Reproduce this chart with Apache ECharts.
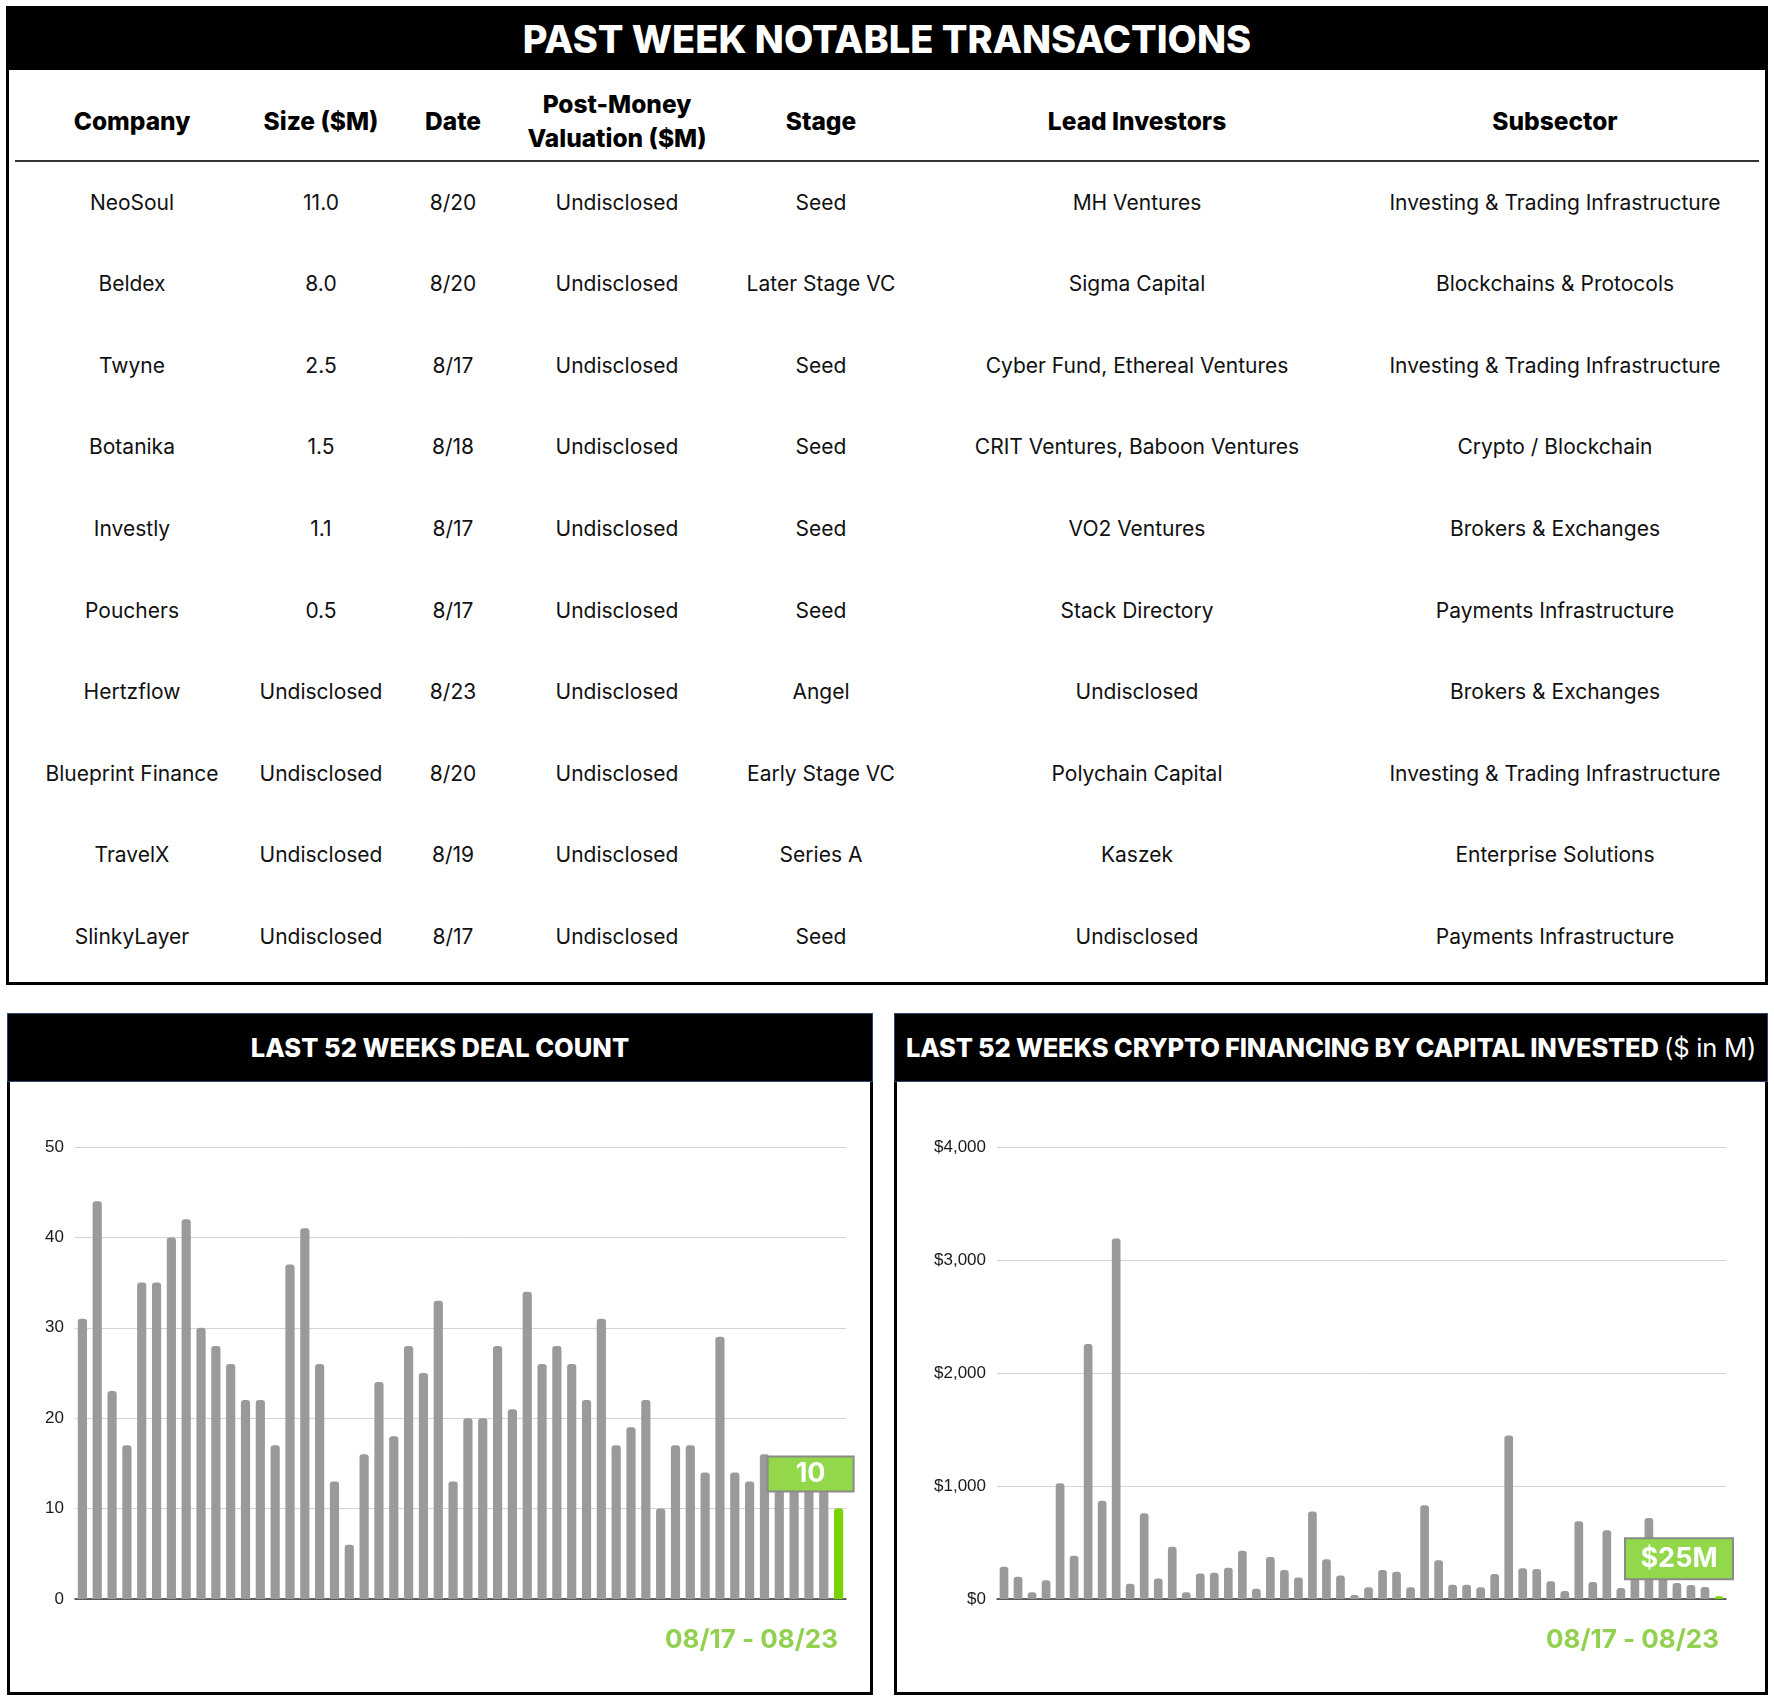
<!DOCTYPE html>
<html>
<head>
<meta charset="utf-8">
<script src="https://cdn.jsdelivr.net/npm/echarts@6/dist/echarts.min.js"></script>
<style>
  body { margin: 0; background: #fff; width: 1774px; height: 1700px; position: relative; font-family: Inter, "Noto Sans", sans-serif; }
  .box { position: absolute; box-sizing: border-box; border: 3px solid #000; }
  .bigHead { position: absolute; left: 0; top: 0; right: 0; height: 61px; background: #000; color: #fff;
             font-weight: 800; font-size: 38px; text-align: center; line-height: 61px; }
  .cell { position: absolute; display: flex; align-items: center; justify-content: center; text-align: center; color: #111; }
  .hcell { font-weight: 800; font-size: 24.5px; line-height: 34px; color: #000; }
  .bcell { font-size: 21px; }
  .chartHead { position: absolute; left: -3px; right: -3px; top: 0; height: 69px; background: #000; box-sizing: border-box;
               border: 1px solid #2e4468; color: #fff; font-weight: 800; font-size: 25.5px; text-align: center; line-height: 67px; white-space: nowrap; }
  .chart { position: absolute; }
</style>
</head>
<body>
<div class="box" id="tableBox" style="left:6px; top:6px; width:1762px; height:979px;">
  <div class="bigHead">PAST WEEK NOTABLE TRANSACTIONS</div>
</div>

<div class="box" style="left:7px; top:1013px; width:866px; height:682px; border-top:none;">
  <div class="chartHead">LAST 52 WEEKS DEAL COUNT</div>
</div>
<div class="box" style="left:894px; top:1013px; width:874px; height:682px; border-top:none;">
  <div class="chartHead" style="letter-spacing:-0.2px;">LAST 52 WEEKS CRYPTO FINANCING BY CAPITAL INVESTED <span style="font-weight:400">($ in M)</span></div>
</div>

<div class="chart" id="dealChart" style="left:10px; top:1082px; width:860px; height:609px;"></div>
<div class="chart" id="capChart" style="left:897px; top:1082px; width:868px; height:609px;"></div>

<script>
// table data
var headers = ['Company', 'Size ($M)', 'Date', 'Post-Money<br>Valuation ($M)', 'Stage', 'Lead Investors', 'Subsector'];
var companies = ['NeoSoul', 'Beldex', 'Twyne', 'Botanika', 'Investly', 'Pouchers', 'Hertzflow', 'Blueprint Finance', 'TravelX', 'SlinkyLayer'];
var sizes = ['11.0', '8.0', '2.5', '1.5', '1.1', '0.5', 'Undisclosed', 'Undisclosed', 'Undisclosed', 'Undisclosed'];
var dates = ['8/20', '8/20', '8/17', '8/18', '8/17', '8/17', '8/23', '8/20', '8/19', '8/17'];
var valuations = ['Undisclosed', 'Undisclosed', 'Undisclosed', 'Undisclosed', 'Undisclosed', 'Undisclosed', 'Undisclosed', 'Undisclosed', 'Undisclosed', 'Undisclosed'];
var stages = ['Seed', 'Later Stage VC', 'Seed', 'Seed', 'Seed', 'Seed', 'Angel', 'Early Stage VC', 'Series A', 'Seed'];
var investors = ['MH Ventures', 'Sigma Capital', 'Cyber Fund, Ethereal Ventures', 'CRIT Ventures, Baboon Ventures', 'VO2 Ventures',
                 'Stack Directory', 'Undisclosed', 'Polychain Capital', 'Kaszek', 'Undisclosed'];
var subsectors = ['Investing & Trading Infrastructure', 'Blockchains & Protocols', 'Investing & Trading Infrastructure', 'Crypto / Blockchain',
                  'Brokers & Exchanges', 'Payments Infrastructure', 'Brokers & Exchanges', 'Investing & Trading Infrastructure',
                  'Enterprise Solutions', 'Payments Infrastructure'];

// chart data (last 52 weeks, oldest first)
var dealCounts = [31, 44, 23, 17, 35, 35, 40, 42, 30, 28, 26, 22, 22, 17, 37, 41, 26, 13, 6, 16,
                  24, 18, 28, 25, 33, 13, 20, 20, 28, 21, 34, 26, 28, 26, 22, 31, 17, 19, 22, 10,
                  17, 17, 14, 29, 14, 13, 16, 13, 15, 14, 12, 10];
var capital = [285, 198, 59, 166, 1024, 383, 2257, 870, 3190, 134, 759, 182, 462, 59, 225, 233, 277, 427, 91, 372,
               257, 190, 775, 352, 209, 36, 103, 257, 241, 103, 830, 344, 126, 126, 103, 221, 1447, 273, 265, 158,
               71, 688, 150, 609, 97, 240, 717, 350, 142, 124, 106, 25];
var weekLabels = [];
for (var w = 1; w <= 52; w++) { weekLabels.push('W' + w); }
var dealLabel = '10';
var capLabel = '$25M';
var rangeLabel = '08/17 - 08/23';

// build table
var colStarts = [15, 249, 393, 513, 721, 921, 1353];
var colWidths = [234, 144, 120, 208, 200, 432, 404];
var columns = [companies, sizes, dates, valuations, stages, investors, subsectors];
var box = document.getElementById('tableBox');
function addCell(html, cls, left, top, width, height) {
  var d = document.createElement('div');
  d.className = 'cell ' + cls;
  d.style.left = (left - 9) + 'px';
  d.style.top = (top - 9) + 'px';
  d.style.width = width + 'px';
  d.style.height = height + 'px';
  d.innerHTML = html;
  box.appendChild(d);
}
for (var c = 0; c < headers.length; c++) {
  addCell(headers[c], 'hcell', colStarts[c], 75, colWidths[c], 91);
}
var line = document.createElement('div');
line.style.cssText = 'position:absolute;left:6px;width:1744px;top:151px;height:2px;background:#333;';
box.appendChild(line);
for (var r = 0; r < companies.length; r++) {
  var cy = 202 + 81.6 * r;
  for (var c2 = 0; c2 < columns.length; c2++) {
    addCell(columns[c2][r].replace(/&/g, '&amp;'), 'bcell', colStarts[c2], cy - 30, colWidths[c2], 60);
  }
}

var gray = '#9a9a9a';
var green = '#77d400';
function barData(values, label, offX, boxW, boxH) {
  return values.map(function (v, i) {
    if (i < values.length - 1) return v;
    return {
      value: v,
      itemStyle: { color: green },
      label: {
        show: true, position: 'top', distance: 18, offset: [offX, 0],
        formatter: label,
        color: '#fff', fontWeight: 'bold', fontFamily: 'Inter', fontSize: 27,
        backgroundColor: '#92d84a', borderColor: '#8a8a8a', borderWidth: 2,
        width: boxW, align: 'center', lineHeight: boxH, padding: [2, 0]
      }
    };
  });
}

function makeOption(values, gridLeft, gridRight, maxV, interval, fmt, label, offX, boxW, boxH, textX) {
  return {
    animation: false,
    grid: { left: gridLeft, right: gridRight, top: 65, bottom: 92 },
    xAxis: {
      type: 'category', data: weekLabels,
      axisLine: { lineStyle: { color: '#333', width: 1.5 } },
      axisTick: { show: false }, axisLabel: { show: false }
    },
    yAxis: {
      type: 'value', min: 0, max: maxV, interval: interval,
      axisLine: { show: false }, axisTick: { show: false },
      axisLabel: { formatter: fmt, color: '#1a1a1a', fontSize: 17, fontFamily: 'Liberation Sans, Arial', margin: 11 },
      splitLine: { lineStyle: { color: '#d3d3d3', width: 1 } }
    },
    series: [{
      type: 'bar', data: barData(values, label, offX, boxW, boxH), barWidth: '62%',
      itemStyle: { color: gray, borderRadius: [3, 3, 0, 0] }
    }],
    graphic: [{
      type: 'text', x: textX, y: 558,
      style: { text: rangeLabel, fill: '#92d050', font: 'bold 26px Inter', textAlign: 'right', textVerticalAlign: 'middle' }
    }]
  };
}

var dealChart = echarts.init(document.getElementById('dealChart'));
dealChart.setOption(makeOption(dealCounts, 65, 24, 50, 10, '{value}', dealLabel, -28, 84, 29, 828));

var capChart = echarts.init(document.getElementById('capChart'));
capChart.setOption(makeOption(capital, 100, 39, 4000, 1000, function (v) {
  return '$' + v.toString().replace(/\B(?=(\d{3})+(?!\d))/g, ',');
}, capLabel, -40, 106, 35, 822));
</script>
</body>
</html>
